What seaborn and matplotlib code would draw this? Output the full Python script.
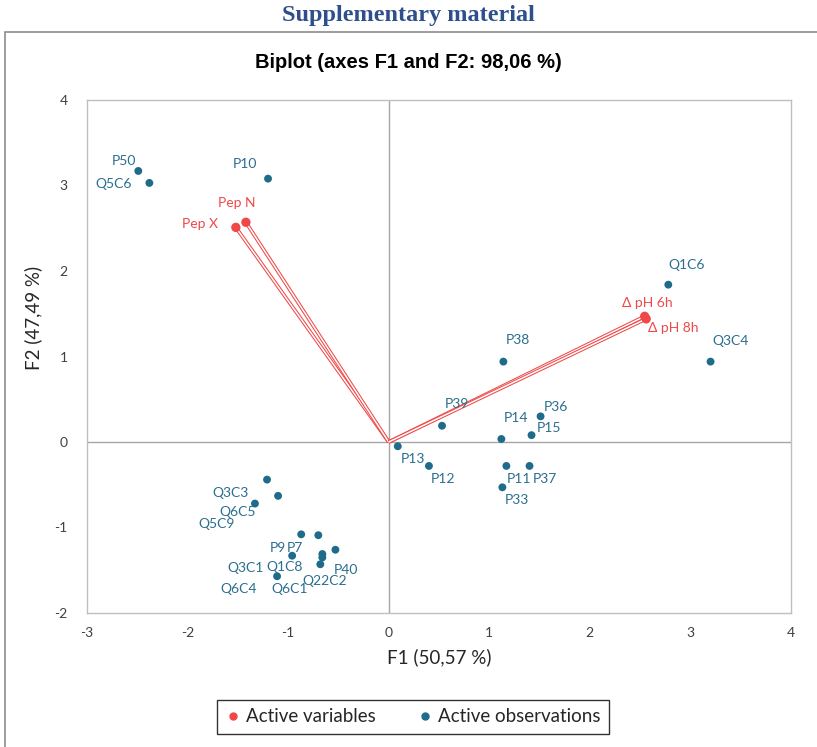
import pandas as pd
import seaborn as sns
import matplotlib.pyplot as plt
from matplotlib.patches import Rectangle
from matplotlib.lines import Line2D

# active variables (vectors)
var_names = ["Pep X", "Pep N", "\u0394 pH 6h", "\u0394 pH 8h"]
var_f1 = [-1.52, -1.42, 2.545, 2.56]
var_f2 = [2.51, 2.57, 1.47, 1.44]

# active observations
obs_names = ["P50", "Q5C6", "P10", "Q1C6", "Q3C4", "P38", "P39", "P36", "P14", "P15",
             "P13", "P12", "P11", "P37", "P33",
             "Q3C3", "Q6C5", "Q5C9", "P9", "P7", "Q3C1", "Q1C8", "P40", "Q22C2", "Q6C4", "Q6C1"]
obs_f1 = [-2.49, -2.38, -1.20, 2.78, 3.20, 1.14, 0.53, 1.51, 1.12, 1.42,
          0.09, 0.40, 1.17, 1.40, 1.13,
          -1.21, -1.10, -1.33, -0.87, -0.70, -0.96, -0.66, -0.53, -0.68, -1.11, -0.66]
obs_f2 = [3.17, 3.03, 3.08, 1.84, 0.94, 0.94, 0.19, 0.30, 0.035, 0.08,
          -0.05, -0.28, -0.28, -0.28, -0.53,
          -0.44, -0.63, -0.72, -1.08, -1.09, -1.33, -1.35, -1.26, -1.43, -1.57, -1.31]

# label offsets in pixels (style only)
var_off = [(-36, 3), (-9, 19), (3, 13), (27, -9)]
obs_off = [(-14, 10), (-36, -1), (-23, 15), (18, 20), (20, 21), (15, 22), (15, 22), (15, 9), (15, 21), (17, 7),
           (15, -13), (14, -13), (13, -13), (15, -13), (15, -13),
           (-37, -13), (-40, -16), (-38, -20), (-23, -14), (-23, -13), (-47, -12), (-38, -10), (11, -20), (4, -17),
           (-38, -13), (-33, -35)]

red = "#F04848"
blue = "#1F6B8A"
lab_blue = "#2B6E8F"

sns.set_style("white")
plt.rcParams['font.family'] = ['Lato', 'DejaVu Sans']
plt.rcParams['axes.unicode_minus'] = False

fig = plt.figure(figsize=(8.17, 7.47), dpi=100)
fig.add_artist(Rectangle((5 / 817, -0.05), 2, (747 - 32) / 747 + 0.05, transform=fig.transFigure,
                         fill=False, edgecolor="#8C8C8C", linewidth=1.2))
fig.text(0.5, 1 - 16 / 747, "Supplementary material", ha="center", va="center",
         family="Liberation Serif", fontweight="bold", fontsize=17.5, color="#2F4F8C")
fig.text(0.5, 1 - 62 / 747, "Biplot (axes F1 and F2: 98,06 %)", ha="center", va="center",
         family="Liberation Sans", fontweight="bold", fontsize=14.5, color="black")

ax = fig.add_axes([87 / 817, (747 - 613) / 747, 704 / 817, 513 / 747])
ax.axhline(0, color="#A6A6A6", lw=1, zorder=0)
ax.axvline(0, color="#A6A6A6", lw=1, zorder=0)

for x, y in zip(var_f1, var_f2):
    # each vector drawn as a thin double line
    ax.plot([0, x], [0, y], color=red, lw=2.6, zorder=1, solid_capstyle="butt")
    ax.plot([0, x], [0, y], color="white", lw=1.1, zorder=1, solid_capstyle="butt")

dv = pd.DataFrame({"F1": var_f1, "F2": var_f2})
do = pd.DataFrame({"F1": obs_f1, "F2": obs_f2})
sns.scatterplot(data=do, x="F1", y="F2", ax=ax, color=blue, s=32, edgecolor="none", zorder=3)
sns.scatterplot(data=dv, x="F1", y="F2", ax=ax, color=red, s=45, edgecolor="none", zorder=3)

for n, x, y, o in zip(obs_names, obs_f1, obs_f2, obs_off):
    ax.annotate(n, (x, y), xytext=o, textcoords="offset pixels", ha="center", va="center",
                fontsize=10, color=lab_blue)
for n, x, y, o in zip(var_names, var_f1, var_f2, var_off):
    ax.annotate(n, (x, y), xytext=o, textcoords="offset pixels", ha="center", va="center",
                fontsize=10, color=red)

ax.set_xlim(-3, 4)
ax.set_ylim(-2, 4)
ax.set_xticks(range(-3, 5))
ax.set_yticks(range(-2, 5))
ax.tick_params(length=0, labelsize=10, labelcolor="#404040", pad=10)
ax.tick_params(axis="y", pad=14)
for s in ax.spines.values():
    s.set_color("#BFBFBF")
    s.set_linewidth(1)
ax.set_xlabel("F1 (50,57 %)", fontsize=13.5, color="#262626", labelpad=7)
ax.set_ylabel("F2 (47,49 %)", fontsize=13.5, color="#262626")
ax.yaxis.set_label_coords(-0.064, 0.575)

handles = [Line2D([], [], marker="o", ls="", color=red, markersize=5),
           Line2D([], [], marker="o", ls="", color=blue, markersize=5)]
leg = fig.legend(handles, ["Active variables", "Active observations"], loc="center",
                 bbox_to_anchor=(413 / 817, 1 - 717 / 747), ncol=2, frameon=True, fancybox=False,
                 fontsize=13.5, handletextpad=0.3, columnspacing=2.2, borderpad=0.45,
                 borderaxespad=0, handlelength=0.8)
leg.get_frame().set_edgecolor("black")
leg.get_frame().set_linewidth(1)

fig.savefig("out.png", dpi=100)
